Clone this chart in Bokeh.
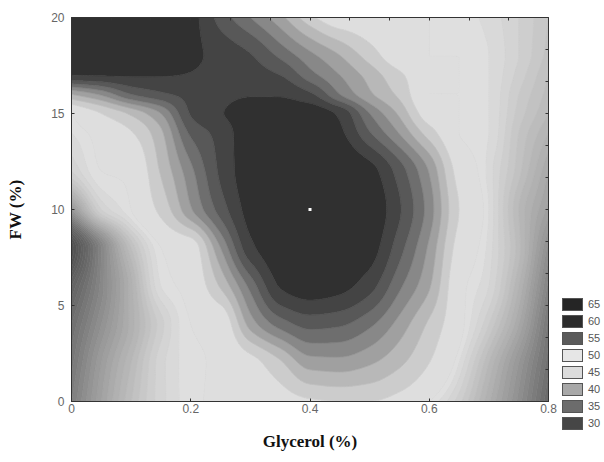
import numpy as np
from bokeh.plotting import figure
from bokeh.layouts import row
from bokeh.models import LinearAxis, FixedTicker, Range1d, CustomJSTickFormatter, Div
from bokeh.embed import file_html
from bokeh.resources import INLINE

# ---- values (rows = FW %, columns = Glycerol %)
glycerol = [0.0, 0.05, 0.1, 0.15, 0.2, 0.25, 0.3, 0.35, 0.4, 0.45, 0.5, 0.55, 0.6, 0.65, 0.7, 0.75, 0.8]
fw = [0, 2, 4, 6, 8, 10, 12, 14, 15, 16, 17, 18, 20]
response = [
    [36.5, 39.5, 42.0, 43.8, 44.8, 45.2, 45.5, 46.0, 47.0, 47.5, 47.5, 46.5, 45.0, 43.2, 40.6, 37.8, 34.5],  # 0
    [35.8, 39.0, 41.5, 43.8, 44.8, 45.2, 46.5, 49.5, 53.7, 54.0, 52.8, 50.5, 47.5, 44.5, 41.5, 38.5, 35.2],  # 2
    [35.0, 38.0, 40.7, 43.3, 45.0, 45.5, 53.5, 58.5, 60.8, 60.3, 58.0, 54.0, 49.5, 45.5, 43.0, 40.0, 35.8],  # 4
    [33.5, 37.2, 40.8, 44.5, 45.5, 50.3, 58.3, 65.2, 66.5, 65.8, 63.5, 58.0, 52.8, 45.5, 44.0, 41.0, 36.8],  # 6
    [31.0, 37.0, 42.0, 45.0, 46.0, 55.0, 64.3, 67.0, 68.0, 67.5, 66.2, 61.0, 54.5, 46.5, 44.3, 41.7, 37.8],  # 8
    [38.5, 43.5, 45.0, 48.2, 54.7, 61.1, 66.0, 67.5, 68.5, 68.0, 67.0, 62.8, 56.3, 47.5, 44.5, 41.5, 39.3],  # 10
    [43.5, 45.0, 45.3, 50.3, 56.8, 63.0, 66.5, 67.5, 68.0, 67.5, 66.0, 61.3, 54.8, 46.5, 44.3, 42.2, 40.0],  # 12
    [44.5, 45.5, 47.3, 52.0, 60.5, 63.5, 66.5, 67.0, 67.0, 65.5, 60.2, 54.8, 48.7, 45.0, 44.5, 42.5, 41.0],  # 14
    [45.0, 47.5, 50.5, 55.0, 62.7, 64.8, 66.3, 66.5, 66.5, 64.5, 57.5, 52.0, 46.0, 45.0, 44.5, 42.8, 41.5],  # 15
    [52.5, 55.5, 60.0, 62.0, 63.3, 64.2, 64.8, 64.7, 63.0, 57.5, 53.0, 49.4, 45.0, 45.0, 44.5, 43.0, 41.8],  # 16
    [65.0, 65.2, 65.3, 65.2, 64.8, 63.8, 63.6, 62.5, 58.5, 55.0, 51.5, 48.0, 45.5, 45.0, 44.5, 43.3, 42.0],  # 17
    [68.0, 68.0, 68.0, 67.5, 65.8, 64.0, 62.7, 59.5, 55.8, 52.6, 48.9, 45.8, 45.0, 45.0, 44.5, 43.5, 42.3],  # 18
    [68.0, 68.0, 68.0, 68.0, 66.0, 61.5, 57.5, 53.3, 48.3, 45.2, 45.0, 45.0, 45.0, 44.8, 44.3, 43.5, 42.5],  # 20
]
center_x = [0.4]
center_y = [10]
x_ticks = [0, 0.2, 0.4, 0.6, 0.8]
y_ticks = [0, 5, 10, 15, 20]
top_ticks = [0.0667, 0.1333, 0.2, 0.2667, 0.3333, 0.4, 0.4667, 0.5333, 0.6, 0.6667, 0.7333]
right_ticks = [1.667, 3.333, 5, 6.667, 8.333, 10, 11.667, 13.333, 15, 16.667, 18.333]
legend_values = ["65", "60", "55", "50", "45", "40", "35", "30"]
legend_colors = ["#252525", "#2c2c2c", "#5a5a5a", "#e6e6e6", "#dcdcdc", "#a8a8a8", "#6c6c6c", "#464646"]

# ---- smooth rendering grid: monotone cubic (PCHIP) through the read values
def pchip(xk, yk, xf):
    xk = np.asarray(xk, float); yk = np.asarray(yk, float)
    n = len(xk); h = np.diff(xk); delta = np.diff(yk) / h
    d = np.zeros(n)
    for k in range(1, n - 1):
        if delta[k - 1] * delta[k] > 0:
            w1 = 2 * h[k] + h[k - 1]; w2 = h[k] + 2 * h[k - 1]
            d[k] = (w1 + w2) / (w1 / delta[k - 1] + w2 / delta[k])
    d[0] = delta[0]; d[-1] = delta[-1]
    i = np.clip(np.searchsorted(xk, xf) - 1, 0, n - 2)
    t = (xf - xk[i]) / h[i]
    h00 = 2 * t ** 3 - 3 * t ** 2 + 1; h10 = t ** 3 - 2 * t ** 2 + t
    h01 = -2 * t ** 3 + 3 * t ** 2; h11 = t ** 3 - t ** 2
    return h00 * yk[i] + h10 * h[i] * d[i] + h01 * yk[i + 1] + h11 * h[i] * d[i + 1]

xf = np.linspace(0, 0.8, 161)
yf = np.linspace(0, 20, 201)
Z = np.asarray(response, float)
Zx = np.array([pchip(glycerol, r, xf) for r in Z])
Zf = np.array([pchip(fw, Zx[:, j], yf) for j in range(len(xf))]).T

# ---- levels and greys: smooth ramp below the light valley, bands above it
low_levels = list(np.arange(26.0, 45.0, 0.5))
high_levels = [45.0, 47.5, 50.0, 52.5, 55.0, 57.5, 60.0, 62.5, 65.0, 80.0]
levels = low_levels + high_levels
def grey(v):
    v = int(max(40, min(235, round(v))))
    return "#%02x%02x%02x" % (v, v, v)
def low_grey(z):
    return grey(np.interp(z, [26, 30, 35, 40, 45], [58, 72, 110, 168, 226]))
low_cols = [low_grey(lv + 0.25) for lv in low_levels]
high_cols = ["#dedede", "#cccccc", "#b8b8b8", "#a0a0a0", "#888888", "#6e6e6e", "#585858", "#444444", "#303030"]
fill_cols = low_cols + high_cols

def mix(c1, c2):
    return grey((int(c1[1:3], 16) + int(c2[1:3], 16)) / 2)
line_cols = [fill_cols[0]] + [mix(fill_cols[k - 1], fill_cols[k]) for k in range(1, len(fill_cols))] + [fill_cols[-1]]

H = 458
p = figure(width=558, height=H, x_range=Range1d(0, 0.8), y_range=Range1d(0, 20),
           output_backend="svg", toolbar_location=None,
           min_border_left=71, min_border_right=10, min_border_top=17, min_border_bottom=57)
p.background_fill_color = "#bbbbbb"
p.border_fill_color = "white"
p.outline_line_color = "#333333"
p.grid.visible = False

p.contour(x=xf, y=yf, z=Zf, levels=levels, fill_color=fill_cols,
          line_color=line_cols, line_width=0.8)
p.scatter(center_x, center_y, marker="square", size=3, fill_color="white", line_color=None)

for ax in (p.xaxis[0], p.yaxis[0]):
    ax.major_label_text_font = "Liberation Sans"
    ax.major_label_text_font_size = "12px"
    ax.major_label_text_color = "#666666"
    ax.axis_label_text_font = "Liberation Serif"
    ax.axis_label_text_font_style = "bold"
    ax.axis_label_text_font_size = "17px"
    ax.axis_label_text_color = "#111111"
    ax.major_tick_in = 3
    ax.major_tick_out = 0
    ax.minor_tick_line_color = None
    ax.axis_line_color = "#333333"
    ax.major_tick_line_color = "#333333"
p.xaxis.ticker = FixedTicker(ticks=x_ticks)
p.yaxis.ticker = FixedTicker(ticks=y_ticks)
p.xaxis.axis_label = "Glycerol (%)"
p.yaxis.axis_label = "FW (%)"
p.xaxis.major_label_standoff = 2
p.xaxis.axis_label_standoff = 16
p.yaxis.major_label_standoff = 7
p.yaxis.axis_label_standoff = 23

blank = CustomJSTickFormatter(code="return ''")
top_axis = LinearAxis(ticker=FixedTicker(ticks=top_ticks), formatter=blank,
                      major_tick_in=3, major_tick_out=0, minor_tick_line_color=None,
                      major_label_standoff=0,
                      axis_line_color="#333333", major_tick_line_color="#333333")
right_axis = LinearAxis(ticker=FixedTicker(ticks=right_ticks), formatter=blank,
                        major_tick_in=3, major_tick_out=0, minor_tick_line_color=None,
                        major_label_standoff=0,
                        axis_line_color="#333333", major_tick_line_color="#333333")
p.add_layout(top_axis, "above")
p.add_layout(right_axis, "right")

# ---- legend (HTML boxes + real text) beside the plot, reaching below the frame
LEG_TOP = 298   # top of first swatch, px
LEG_STEP = 17   # item pitch, px
parts = []
for k, (lab, col) in enumerate(zip(legend_values, legend_colors)):
    top = LEG_TOP + k * LEG_STEP
    parts.append(
        f'<div style="position:absolute;left:4px;top:{top}px;width:21px;height:13px;'
        f'box-sizing:border-box;background:{col};border:1px solid #555555;"></div>'
        f'<div style="position:absolute;left:30px;top:{top - 1}px;line-height:15px;'
        f'font-family:\'Liberation Sans\',Arial,sans-serif;font-size:11px;color:#555555;">{lab}</div>'
    )
legend_html = ('<div style="position:relative;width:44px;height:%dpx;">' % H) + "".join(parts) + "</div>"
legend_div = Div(text=legend_html, width=44, height=H, margin=0)

open("out.html", "w").write(file_html(row(p, legend_div), INLINE))
